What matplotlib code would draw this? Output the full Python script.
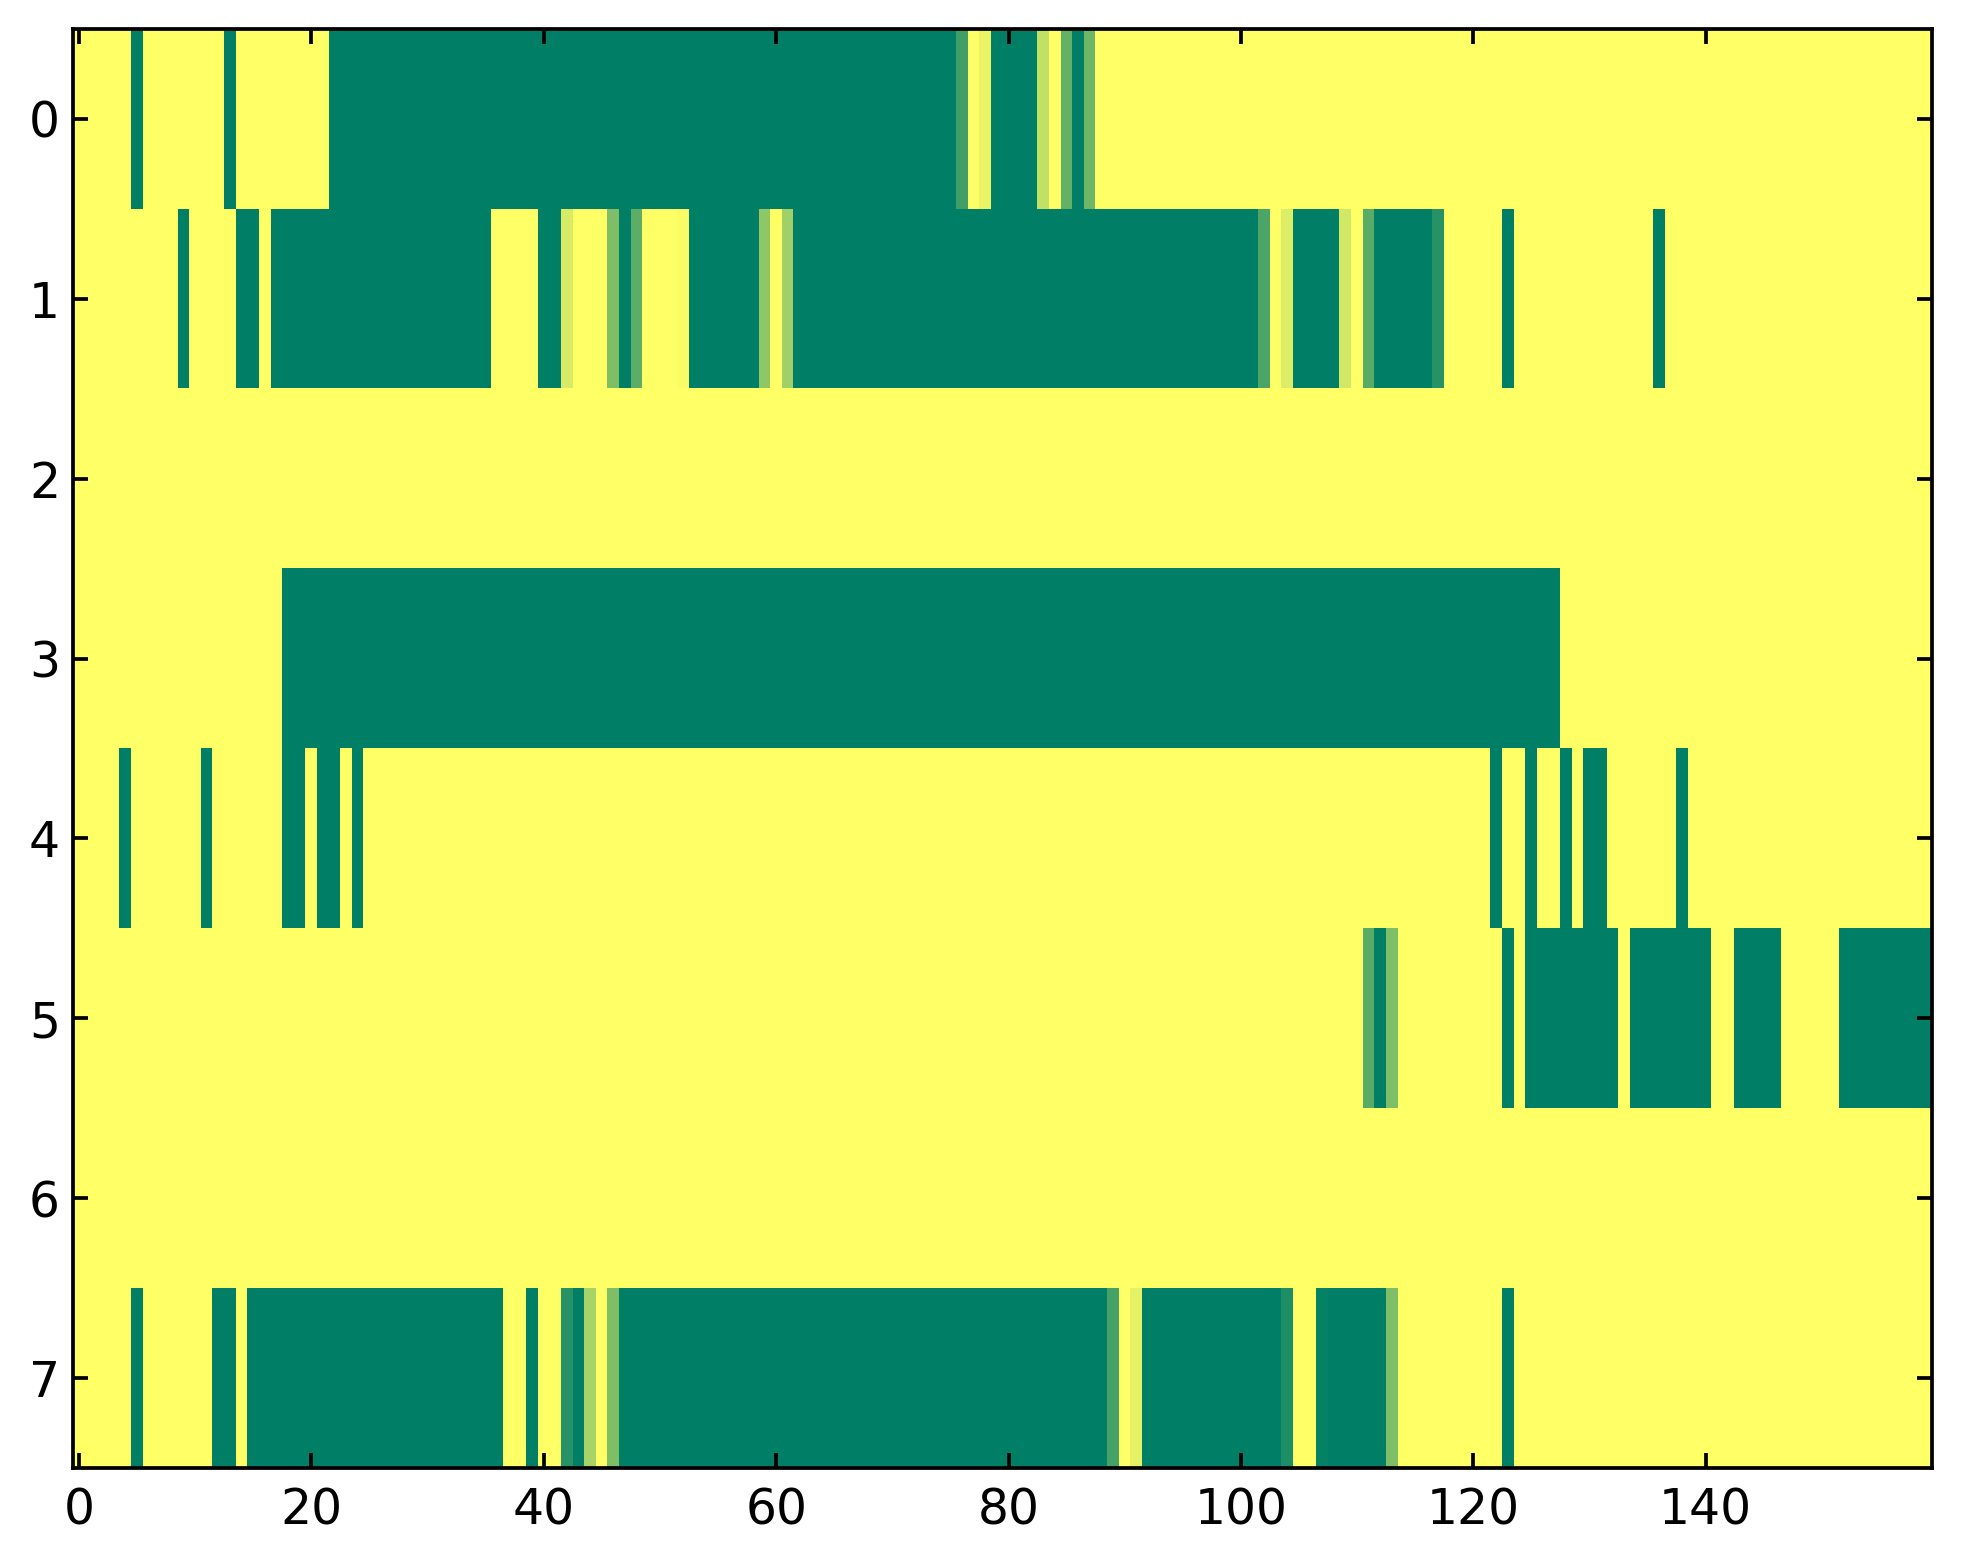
import numpy as np
import matplotlib
matplotlib.use("Agg")
import matplotlib.pyplot as plt

# heatmap data, 8 rows x 160 columns, given as runs (first col, last col, value)
n_cols = 160

row0_runs = [(0, 4, 1), (5, 5, 0), (6, 12, 1), (13, 13, 0), (14, 21, 1),
             (22, 75, 0), (76, 76, 0.25), (77, 77, 1), (78, 78, 0.92),
             (79, 82, 0), (83, 83, 0.76), (84, 84, 1), (85, 85, 0.39),
             (86, 86, 0), (87, 87, 0.43), (88, 159, 1)]
row1_runs = [(0, 8, 1), (9, 9, 0), (10, 13, 1), (14, 15, 0), (16, 16, 1),
             (17, 35, 0), (36, 39, 1), (40, 41, 0), (42, 42, 0.84),
             (43, 45, 1), (46, 46, 0.49), (47, 47, 0), (48, 48, 0.36),
             (49, 51, 1), (52, 52, 0.98), (53, 58, 0), (59, 59, 0.56),
             (60, 60, 1), (61, 61, 0.63), (62, 101, 0), (102, 102, 0.3),
             (103, 103, 1), (104, 104, 0.86), (105, 108, 0), (109, 109, 0.82),
             (110, 110, 1), (111, 111, 0.35), (112, 116, 0), (117, 117, 0.15),
             (118, 122, 1), (123, 123, 0), (124, 135, 1), (136, 136, 0),
             (137, 159, 1)]
row2_runs = [(0, 159, 1)]
row3_runs = [(0, 17, 1), (18, 127, 0), (128, 159, 1)]
row4_runs = [(0, 3, 1), (4, 4, 0), (5, 10, 1), (11, 11, 0), (12, 17, 1),
             (18, 19, 0), (20, 20, 1), (21, 22, 0), (23, 23, 1), (24, 24, 0),
             (25, 121, 1), (122, 122, 0), (123, 124, 1), (125, 125, 0),
             (126, 127, 1), (128, 128, 0), (129, 129, 1), (130, 131, 0),
             (132, 137, 1), (138, 138, 0), (139, 159, 1)]
row5_runs = [(0, 110, 1), (111, 111, 0.35), (112, 112, 0), (113, 113, 0.49),
             (114, 122, 1), (123, 123, 0), (124, 124, 1), (125, 132, 0),
             (133, 133, 1), (134, 140, 0), (141, 142, 1), (143, 146, 0),
             (147, 151, 1), (152, 159, 0)]
row6_runs = [(0, 159, 1)]
row7_runs = [(0, 4, 1), (5, 5, 0), (6, 11, 1), (12, 13, 0), (14, 14, 1),
             (15, 36, 0), (37, 38, 1), (39, 39, 0), (40, 41, 1), (42, 42, 0.15),
             (43, 43, 0), (44, 44, 0.66), (45, 45, 1), (46, 46, 0.49),
             (47, 88, 0), (89, 89, 0.27), (90, 90, 1), (91, 91, 0.9),
             (92, 103, 0), (104, 104, 0.12), (105, 106, 1), (107, 107, 0.02),
             (108, 112, 0), (113, 113, 0.49), (114, 122, 1), (123, 123, 0),
             (124, 159, 1)]

x_ticks = [0, 20, 40, 60, 80, 100, 120, 140]
y_ticks = [0, 1, 2, 3, 4, 5, 6, 7]


def build_row(runs):
    row = np.ones(n_cols)
    for a, b, v in runs:
        row[a:b + 1] = v
    return row


data = np.vstack([build_row(r) for r in (row0_runs, row1_runs, row2_runs, row3_runs,
                                          row4_runs, row5_runs, row6_runs, row7_runs)])

dpi = 270
plt.rcParams["font.family"] = ["DejaVu Sans"]
plt.rcParams["font.size"] = 13

fig = plt.figure(figsize=(1963 / dpi, 1564 / dpi), dpi=dpi)
ax = fig.add_axes([73.2 / 1963, 1 - 1468 / 1564, 1859 / 1963, (1468 - 29) / 1564])
ax.imshow(data, cmap="summer", vmin=0, vmax=1, aspect="auto", interpolation="nearest")

ax.set_xticks(x_ticks)
ax.set_yticks(y_ticks)
ax.set_xlim(-0.5, n_cols - 0.5)
ax.set_ylim(7.5, -0.5)
ax.tick_params(direction="in", top=True, right=True, length=4, width=1.0)
ax.tick_params(axis="x", pad=5)
ax.tick_params(axis="y", pad=3.5)
for s in ax.spines.values():
    s.set_linewidth(1.0)

fig.savefig("out.png", dpi=dpi, facecolor="white")
